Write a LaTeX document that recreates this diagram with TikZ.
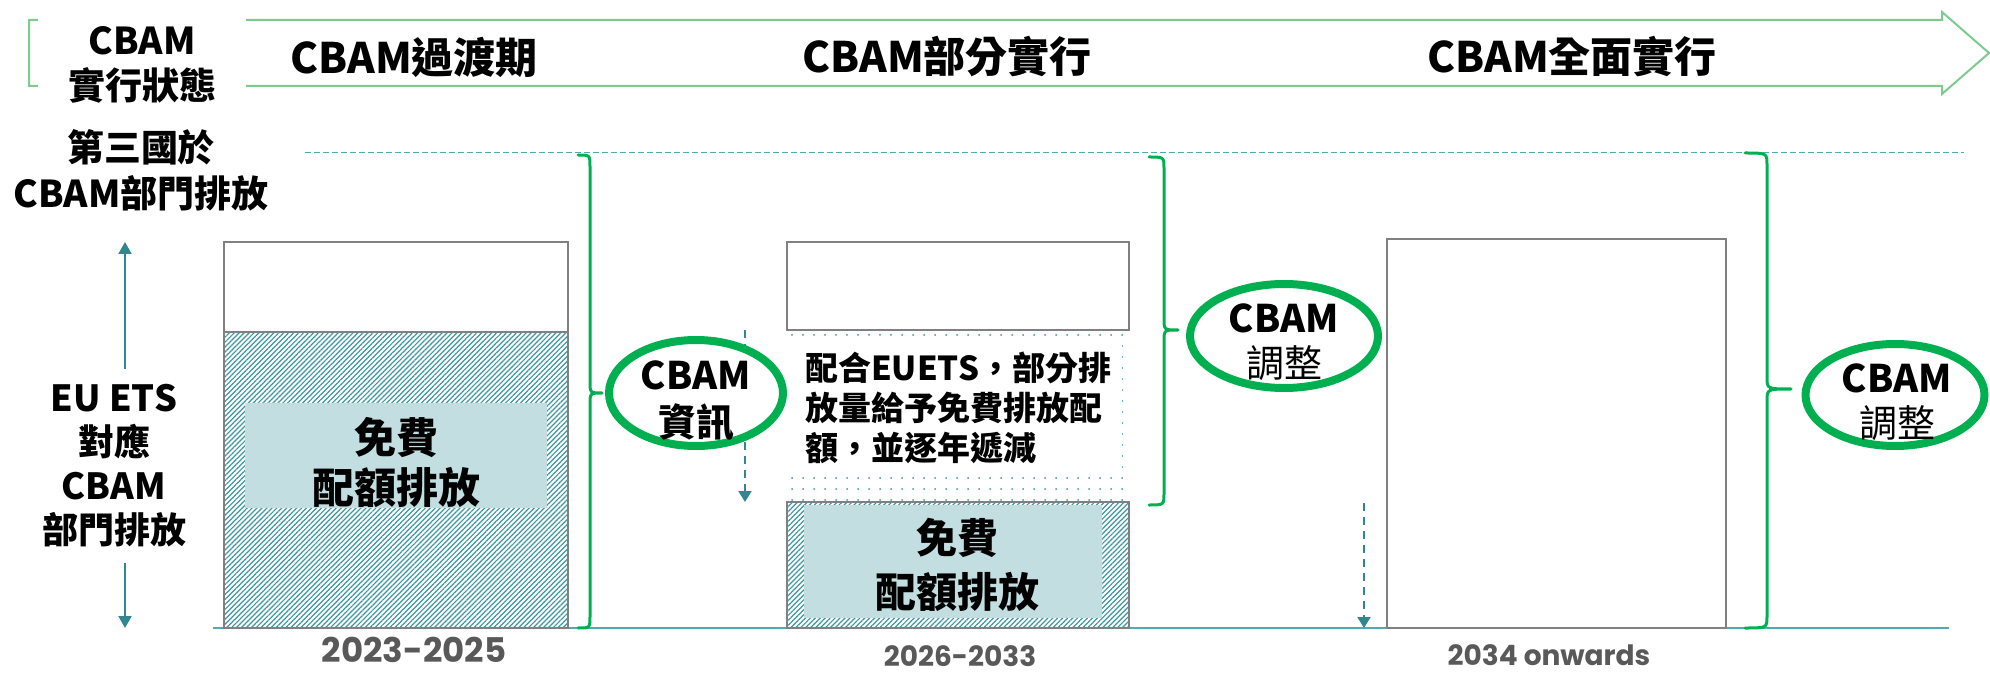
\documentclass[tikz,border=0pt]{standalone}
\usepackage{fontspec}
\setmainfont{Noto Sans CJK TC}
\newfontfamily\yearfont{Poppins}
\usetikzlibrary{arrows.meta,patterns.meta,shapes.geometric}
\definecolor{lgreen}{RGB}{125,203,143}
\definecolor{bgreen}{RGB}{0,176,80}
\definecolor{tealA}{RGB}{49,134,146}
\definecolor{tealB}{RGB}{80,170,175}
\definecolor{hatchteal}{RGB}{60,150,160}
\definecolor{paleteal}{RGB}{194,222,224}
\definecolor{boxgray}{RGB}{128,128,128}
\definecolor{yeargray}{RGB}{89,89,89}
\newcommand\CBbrace[6]{%
  \draw[brc] (#1,#4) .. controls (#2,#4) and (#2,#4) .. (#2,#4+12) -- (#2,#5-12)
    .. controls (#2,#5) and (#2,#5) .. (#3,#5)
    .. controls (#2,#5) and (#2,#5) .. (#2,#5+12) -- (#2,#6-12)
    .. controls (#2,#6) and (#2,#6) .. (#1,#6);}
\begin{document}
\begin{tikzpicture}[x=1pt,y=-1pt,
  arrowline/.style={draw=lgreen,line width=2pt,line join=miter},
  title/.style={inner sep=0,font=\fontsize{42}{50}\selectfont\bfseries},
  lbl/.style={inner sep=0,align=center,font=\fontsize{37}{46}\selectfont\bfseries},
  boxline/.style={draw=boxgray,line width=1.5pt},
  boxtxt/.style={inner sep=0,align=center,font=\fontsize{42}{50}\selectfont\bfseries},
  brc/.style={draw=bgreen,line width=3pt,line join=round,line cap=round},
  ell/.style={ellipse,draw=bgreen,line width=8pt,fill=white,inner sep=0},
  elltxt/.style={inner sep=0,align=center,font=\fontsize{38}{45}\selectfont},
  dashline/.style={draw=tealB,line width=1pt,dash pattern=on 6pt off 3pt},
  dasharrow/.style={draw=tealA,line width=2pt,dash pattern=on 8pt off 6pt,-{Triangle[width=13pt,length=11pt]}},
  tarrow/.style={draw=tealA,line width=2pt,-{Triangle[width=13pt,length=12pt]}},
  yeartxt/.style={inner sep=0,text=yeargray},
  hatchfill/.style={pattern={Lines[angle=45,distance=3.5pt,line width=1.2pt]},pattern color=hatchteal}
]
\useasboundingbox (0,0) rectangle (1990,676);
\fill[white] (0,0) rectangle (1990,676);

% top arrow
\draw[arrowline] (29,20) -- (1942,20) -- (1942,12) -- (1989,53) -- (1942,94) -- (1942,86) -- (29,86) -- cycle;
\node[fill=white,minimum width=208pt,minimum height=100pt,inner sep=0,align=center,
      font=\fontsize{37}{45}\selectfont\bfseries] (state) at (142,65) {CBAM\\實行狀態};
\node[title] (p1) at (414,57) {CBAM過渡期};
\node[title] (p2) at (947,57) {CBAM部分實行};
\node[title] (p3) at (1572,57) {CBAM全面實行};

% third country line
\node[lbl] (third) at (141,170) {第三國於\\CBAM部門排放};
\coordinate (dl) at (305,153);
\coordinate (dr) at (1964,153);
\draw[dashline] (dl) -- (dr);

% baseline
\coordinate (bl) at (213,628);
\coordinate (br) at (1949,628);
\draw[draw=tealB,line width=2pt] (bl) -- (br);

% left double arrow with label
\coordinate (at) at (125,242);
\coordinate (ab) at (125,628);
\node[lbl,inner ysep=15pt,font=\fontsize{36}{44}\selectfont\bfseries] (eu) at (114,466) {EU ETS\\對應\\CBAM\\部門排放};
\draw[tarrow] (at |- eu.north) -- (at);
\draw[tarrow] (ab |- eu.south) -- (ab);

% box 1
\draw[boxline,fill=white] (224,242) rectangle (568,332);
\fill[white] (224,332) rectangle (568,628);
\fill[hatchfill] (224,332) rectangle (568,628);
\draw[boxline] (224,332) rectangle (568,628);
\fill[paleteal] (245,403) rectangle (547,508);
\node[boxtxt] (free1) at (396,463) {免費\\配額排放};

% box 2
\draw[boxline] (787,242) rectangle (1129,330);
\fill[pattern={Dots[distance=11pt,radius=1pt]},pattern color=hatchteal] (787,330) rectangle (1129,502);
\fill[white] (787,342) rectangle (1122,477);
\node[inner sep=0,align=left,anchor=west,font=\fontsize{33}{40}\selectfont\bfseries] (mid2) at (805,408)
  {配合EUETS，部分排\\放量給予免費排放配\\額，並逐年遞減};
\fill[hatchfill] (787,502) rectangle (1129,628);
\fill[paleteal] (804,505) rectangle (1102,618);
\draw[boxline] (787,502) rectangle (1129,628);
\node[boxtxt,font=\fontsize{41}{54}\selectfont\bfseries] (free2) at (957,565) {免費\\配額排放};

% box 3
\draw[boxline] (1387,239) rectangle (1726,628);

% dashed arrows
\coordinate (d1s) at (745,330);
\coordinate (d1e) at (745,502);
\draw[dasharrow] (d1s) -- (d1e);
\coordinate (d2s) at (1364,503);
\coordinate (d2e) at (1364,628);
\draw[dasharrow] (d2s) -- (d2e);

% braces
\CBbrace{578}{590}{602}{155}{393}{628}
\CBbrace{1149}{1164}{1178}{157}{330}{505}
\CBbrace{1745}{1767}{1791}{153}{389}{628}

% ellipses
\node[ell,minimum width=174pt,minimum height=106pt] (e1) at (696,393) {};
\node[elltxt,font=\fontsize{38}{47}\selectfont\bfseries] (e1t) at (696,401) {CBAM\\資訊};
\node[ell,minimum width=188pt,minimum height=104pt] (e2) at (1284,336) {};
\node[elltxt] (e2t) at (1284,342) {\bfseries CBAM\\調整};
\node[ell,minimum width=179pt,minimum height=102pt] (e3) at (1895,395) {};
\node[elltxt] (e3t) at (1897,402) {\bfseries CBAM\\調整};

% years
\node[yeartxt,font=\yearfont\bfseries\fontsize{34}{38}\selectfont] (y1) at (414,650) {2023-2025};
\node[yeartxt,font=\yearfont\bfseries\fontsize{28}{32}\selectfont] (y2) at (960,656) {2026-2033};
\node[yeartxt,font=\yearfont\bfseries\fontsize{28}{32}\selectfont] (y3) at (1549,655) {2034 onwards};
\end{tikzpicture}
\end{document}
